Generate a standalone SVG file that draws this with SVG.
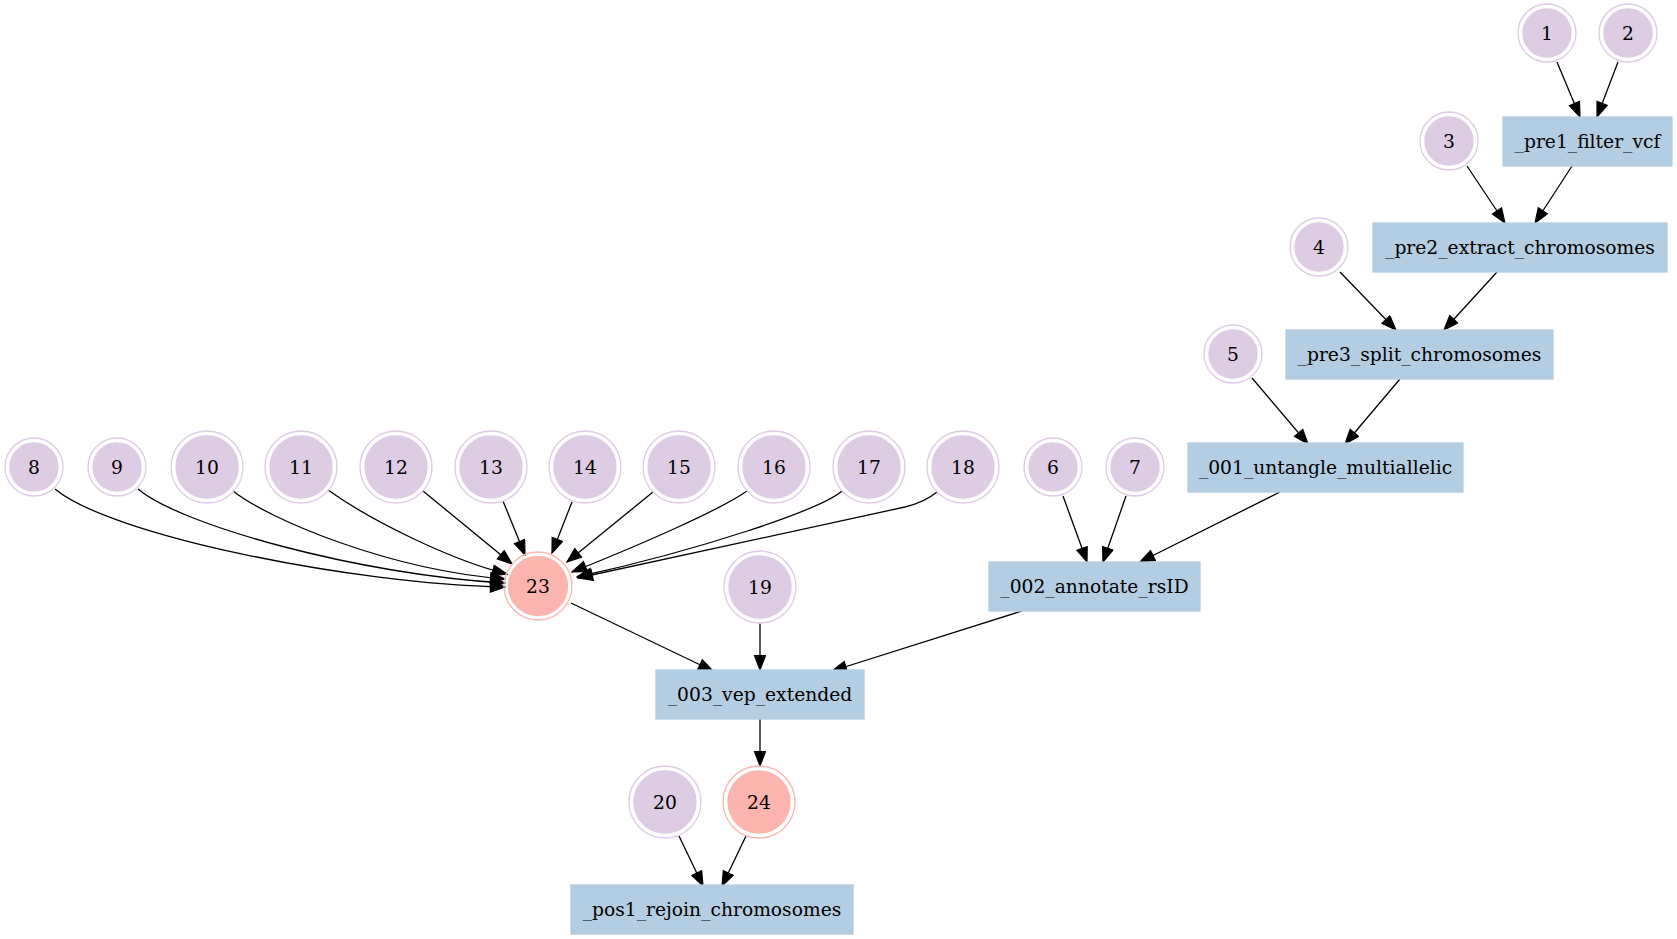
<svg xmlns="http://www.w3.org/2000/svg" width="1677" height="939" viewBox="0 0 1677 939">
<style>
text{font-family:"DejaVu Serif","Liberation Serif",serif;font-size:18.7px;text-anchor:middle;fill:#000}
.in{fill:#decbe4;stroke:#decbe4;stroke-width:1.3}
.out{fill:none;stroke:#decbe4;stroke-width:1.3}
.rin{fill:#fbb4ae;stroke:#fbb4ae;stroke-width:1.3}
.rout{fill:none;stroke:#fbb4ae;stroke-width:1.3}
.box{fill:#b3cde3;stroke:#b3cde3;stroke-width:1.3}
.e{fill:none;stroke:#000;stroke-width:1.3;marker-end:url(#ah)}
</style>
<defs>
<marker id="ah" markerUnits="userSpaceOnUse" markerWidth="17" markerHeight="13" refX="15" refY="6" orient="auto" viewBox="-1 0 17 13">
<path d="M0.5,0.5 L15,6 L0.5,11.5 z" fill="#000" stroke="#000" stroke-width="1.2"/>
</marker>
</defs>
<rect width="1677" height="939" fill="#fff"/>
<g id="connectors">
<path class="e" d="M1557,62 L1580,117"/>
<path class="e" d="M1618,62 L1597,117"/>
<path class="e" d="M1467,166 L1505,223"/>
<path class="e" d="M1572,166 L1535,223"/>
<path class="e" d="M1340,272 L1396,330"/>
<path class="e" d="M1497,272 L1444,330"/>
<path class="e" d="M1252,378 L1308,444"/>
<path class="e" d="M1400,379 L1345,444"/>
<path class="e" d="M1063,496 L1087,562"/>
<path class="e" d="M1126,496 L1103,562"/>
<path class="e" d="M1280,492 L1140,562"/>
<path class="e" d="M55,489 C110,535 350,584 505,587"/>
<path class="e" d="M138,489 C180,525 360,575 505,583"/>
<path class="e" d="M233,491 C270,520 390,570 505,579"/>
<path class="e" d="M328,490 C370,520 450,560 507,574"/>
<path class="e" d="M423,491 L512,564"/>
<path class="e" d="M503,501 L525,555"/>
<path class="e" d="M572,502 L552,553"/>
<path class="e" d="M653,492 L567,562"/>
<path class="e" d="M747,491 C720,510 640,545 572,572"/>
<path class="e" d="M842,491 C820,510 700,550 577,577"/>
<path class="e" d="M937,492 Q925,502 905,507 L578,578"/>
<path class="e" d="M571,603 L713,671"/>
<path class="e" d="M760,623 L760,670"/>
<path class="e" d="M1022,611 L832,671"/>
<path class="e" d="M760,719 L760,766"/>
<path class="e" d="M679,836 L703,886"/>
<path class="e" d="M746,836 L722,886"/>
</g>
<g id="n1"><circle class="out" cx="1547" cy="33" r="29"/><circle class="in" cx="1547" cy="33" r="24"/><text x="1547" y="39.5">1</text></g>
<g id="n2"><circle class="out" cx="1628" cy="33" r="29"/><circle class="in" cx="1628" cy="33" r="24"/><text x="1628" y="39.5">2</text></g>
<g id="n3"><circle class="out" cx="1449" cy="141" r="29"/><circle class="in" cx="1449" cy="141" r="24"/><text x="1449" y="147.5">3</text></g>
<g id="n4"><circle class="out" cx="1319" cy="247" r="29"/><circle class="in" cx="1319" cy="247" r="24"/><text x="1319" y="253.5">4</text></g>
<g id="n5"><circle class="out" cx="1233" cy="354" r="29"/><circle class="in" cx="1233" cy="354" r="24"/><text x="1233" y="360.5">5</text></g>
<g id="n6"><circle class="out" cx="1053" cy="467" r="29"/><circle class="in" cx="1053" cy="467" r="24"/><text x="1053" y="473.5">6</text></g>
<g id="n7"><circle class="out" cx="1135" cy="467" r="29"/><circle class="in" cx="1135" cy="467" r="24"/><text x="1135" y="473.5">7</text></g>
<g id="n8"><circle class="out" cx="34" cy="467" r="29"/><circle class="in" cx="34" cy="467" r="24"/><text x="34" y="473.5">8</text></g>
<g id="n9"><circle class="out" cx="117" cy="467" r="29"/><circle class="in" cx="117" cy="467" r="24"/><text x="117" y="473.5">9</text></g>
<g id="n10"><circle class="out" cx="207" cy="467" r="36"/><circle class="in" cx="207" cy="467" r="31"/><text x="207" y="473.5">10</text></g>
<g id="n11"><circle class="out" cx="301" cy="467" r="36"/><circle class="in" cx="301" cy="467" r="31"/><text x="301" y="473.5">11</text></g>
<g id="n12"><circle class="out" cx="396" cy="467" r="36"/><circle class="in" cx="396" cy="467" r="31"/><text x="396" y="473.5">12</text></g>
<g id="n13"><circle class="out" cx="491" cy="467" r="36"/><circle class="in" cx="491" cy="467" r="31"/><text x="491" y="473.5">13</text></g>
<g id="n14"><circle class="out" cx="585" cy="467" r="36"/><circle class="in" cx="585" cy="467" r="31"/><text x="585" y="473.5">14</text></g>
<g id="n15"><circle class="out" cx="679" cy="467" r="36"/><circle class="in" cx="679" cy="467" r="31"/><text x="679" y="473.5">15</text></g>
<g id="n16"><circle class="out" cx="774" cy="467" r="36"/><circle class="in" cx="774" cy="467" r="31"/><text x="774" y="473.5">16</text></g>
<g id="n17"><circle class="out" cx="869" cy="467" r="36"/><circle class="in" cx="869" cy="467" r="31"/><text x="869" y="473.5">17</text></g>
<g id="n18"><circle class="out" cx="963" cy="467" r="36"/><circle class="in" cx="963" cy="467" r="31"/><text x="963" y="473.5">18</text></g>
<g id="n19"><circle class="out" cx="760" cy="587" r="36"/><circle class="in" cx="760" cy="587" r="31"/><text x="760" y="593.5">19</text></g>
<g id="n20"><circle class="out" cx="665" cy="802" r="36"/><circle class="in" cx="665" cy="802" r="31"/><text x="665" y="808.5">20</text></g>
<g id="n23"><circle class="rout" cx="538" cy="586" r="34"/><circle class="rin" cx="538" cy="586" r="29.5"/><text x="538" y="592.5">23</text></g>
<g id="n24"><circle class="rout" cx="759" cy="802" r="36"/><circle class="rin" cx="759" cy="802" r="31"/><text x="759" y="808.5">24</text></g>
<g id="pre1"><rect class="box" x="1503" y="117" width="169" height="49"/><text x="1587.5" y="148">_pre1_filter_vcf</text></g>
<g id="pre2"><rect class="box" x="1373" y="223" width="294" height="49"/><text x="1520" y="254">_pre2_extract_chromosomes</text></g>
<g id="pre3"><rect class="box" x="1286" y="330" width="267" height="49"/><text x="1419.5" y="361">_pre3_split_chromosomes</text></g>
<g id="s001"><rect class="box" x="1188" y="443" width="275" height="49"/><text x="1325.5" y="474">_001_untangle_multiallelic</text></g>
<g id="s002"><rect class="box" x="989" y="562" width="211" height="49"/><text x="1094.5" y="593">_002_annotate_rsID</text></g>
<g id="s003"><rect class="box" x="656" y="670" width="208" height="49"/><text x="760" y="701">_003_vep_extended</text></g>
<g id="pos1"><rect class="box" x="571" y="885" width="282" height="49"/><text x="712" y="916">_pos1_rejoin_chromosomes</text></g>
</svg>
